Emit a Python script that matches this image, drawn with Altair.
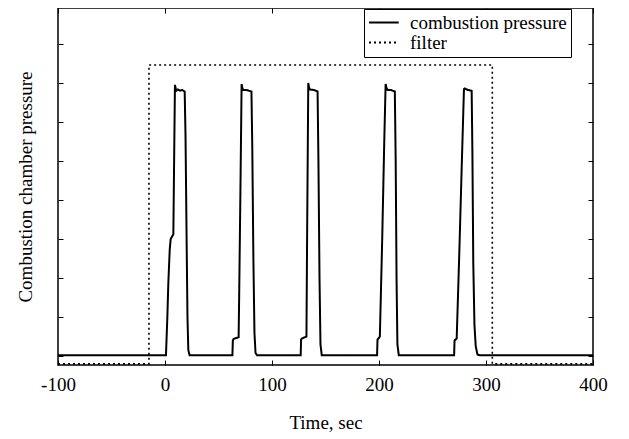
import altair as alt
import pandas as pd

# combustion pressure trace (time in sec, arbitrary pressure units)
comb_t = [-100, 0.9, 2.2, 3.1, 4.4, 5.3, 7.8, 8.6, 9.3, 9.8, 10.5, 12, 14, 16, 18.4, 19.2, 20.2, 21.0, 21.8, 23,
          63.0, 63.4, 64.2, 68.8, 69.3, 70.6, 71.6, 72.2, 73.0, 76, 80.8, 81.6, 82.6, 83.6, 84.6, 86,
          126.8, 127.2, 128, 132.2, 132.8, 133.9, 134.6, 135.5, 139, 142.6, 143.4, 144.4, 145.3, 146.5,
          198.2, 198.6, 199.5, 200.8, 203, 205, 206.2, 206.9, 208, 211, 214.8, 215.6, 216.4, 217.2, 218.5,
          270.2, 270.6, 271.5, 272.6, 275, 277.3, 279.4, 280.2, 283, 286.6, 287.3, 288.1, 289.2, 290.4, 292, 294,
          400]
comb_p = [0.02, 0.02, 1.0, 1.86, 2.72, 3.0, 3.12, 5.2, 6.95, 6.88, 6.8, 6.83, 6.8, 6.82, 6.78, 5.6, 3.0, 1.0, 0.15, 0.02,
          0.02, 0.4, 0.44, 0.48, 1.5, 4.5, 6.97, 6.88, 6.82, 6.82, 6.78, 5.3, 2.5, 0.6, 0.08, 0.02,
          0.02, 0.42, 0.45, 0.5, 3.0, 7.0, 6.88, 6.83, 6.82, 6.78, 5.0, 2.0, 0.3, 0.02,
          0.02, 0.42, 0.45, 0.5, 3.0, 5.6, 6.97, 6.88, 6.82, 6.82, 6.78, 5.0, 2.0, 0.3, 0.02,
          0.02, 0.4, 0.42, 0.45, 2.6, 4.85, 6.84, 6.86, 6.82, 6.8, 5.2, 2.4, 0.8, 0.25, 0.04, 0.02,
          0.02]

# filter window
filt_t = [-100, -15, -15, 305.9, 305.9, 400]
filt_p = [-0.2, -0.2, 7.46, 7.46, -0.2, -0.2]

series_names = ["combustion pressure", "filter"]
x_ticks = [-100, 0, 100, 200, 300, 400]
y_ticks = [0, 1, 2, 3, 4, 5, 6, 7, 8]

comb = pd.DataFrame({"t": comb_t, "p": comb_p, "series": series_names[0], "o": list(range(len(comb_t)))})
filt = pd.DataFrame({"t": filt_t, "p": filt_p, "series": series_names[1], "o": list(range(len(filt_t)))})

FONT = "Liberation Serif"
x_dom = [-100, 400]
y_dom = [-0.23, 8.92]

dash = alt.Scale(domain=series_names, range=[[1, 0], [2, 3]])
legend = alt.Legend(
    title=None, orient="none", legendX=306, legendY=1, direction="vertical",
    symbolType="M-1,0H2.5", symbolSize=289, symbolStrokeWidth=2, symbolStrokeColor="black",
    labelFont=FONT, labelFontSize=19, labelColor="black", labelOffset=23,
    strokeColor="black", fillColor="white", padding=4, rowPadding=-1, cornerRadius=0,
)

base_axis = dict(offset=-5, tickSize=5, domain=False, grid=False, tickColor="black", tickWidth=1,
                 labelFont=FONT, labelFontSize=19, labelColor="black", labelFlush=False,
                 titleFont=FONT, titleFontSize=19, titleFontWeight="normal", titleColor="black")

line1 = alt.Chart(comb).mark_line(color="black", strokeWidth=2, clip=True).encode(
    x=alt.X("t:Q", scale=alt.Scale(domain=x_dom, nice=False, zero=False),
            axis=alt.Axis(orient="bottom", values=x_ticks, title="Time, sec", labelPadding=10,
                          labelExpr="'' + datum.value", titlePadding=19, **base_axis)),
    y=alt.Y("p:Q", scale=alt.Scale(domain=y_dom, nice=False, zero=False),
            axis=alt.Axis(orient="left", values=y_ticks, labels=False, title="Combustion chamber pressure",
                          titlePadding=22, **base_axis)),
    strokeDash=alt.StrokeDash("series:N", scale=dash, legend=legend),
    order="o:Q",
)

line2 = alt.Chart(filt).mark_line(color="black", strokeWidth=1.6, clip=True).encode(
    x=alt.X("t:Q", scale=alt.Scale(domain=x_dom, nice=False, zero=False),
            axis=alt.Axis(orient="top", values=x_ticks, labels=False, title=None, **base_axis)),
    y=alt.Y("p:Q", scale=alt.Scale(domain=y_dom, nice=False, zero=False),
            axis=alt.Axis(orient="right", values=y_ticks, labels=False, title=None, **base_axis)),
    strokeDash=alt.StrokeDash("series:N", scale=dash, legend=legend),
    order="o:Q",
)

chart = alt.layer(line1, line2).resolve_scale(x="independent", y="independent").properties(
    width=535, height=357,
    background="white",
    autosize=alt.AutoSizeParams(type="none"),
    padding={"left": 50, "top": 0, "right": 28, "bottom": 72},
).configure_view(stroke="black", strokeWidth=1.5)

chart.save("out.html", embed_options={"renderer": "svg", "actions": False})
